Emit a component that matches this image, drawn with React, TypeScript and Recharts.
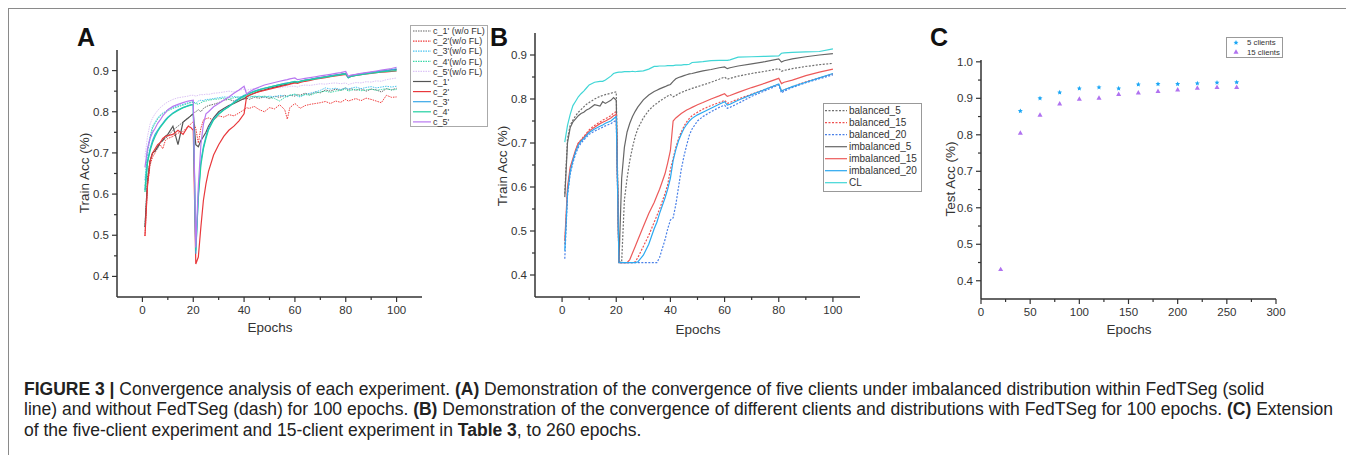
import React from 'react';
import { LineChart, Line, XAxis, YAxis, ScatterChart, Scatter } from 'recharts';

const FONT = "'Liberation Sans', Arial, Helvetica, sans-serif";
const AXIS = '#333';

// ---------- Panel A data ----------
const A_EPOCHS = [1,2,3,4,5,6,7,8,9,10, 12,14,16,18,19,20, 21,22,23,24,25,26, 28,30,32,34,36,38,40, 41,42,44,46,48,50, 52,54,56,57,58,60, 61,62,64,66,68,70, 72,74,76,78,80, 81,82,84,86,88,90, 92,94,96,98,100];

const A_D1 = [0.52,0.64,0.68,0.70,0.705,0.71,0.725,0.73,0.735,0.74, 0.755,0.765,0.775,0.785,0.79,0.797, 0.80,0.805,0.80,0.808,0.812,0.815, 0.818,0.822,0.828,0.83,0.826,0.832,0.83, 0.833,0.83,0.835,0.833,0.836,0.832, 0.838,0.835,0.84,0.837,0.84,0.838, 0.842,0.84,0.845,0.842,0.848,0.846, 0.853,0.85,0.855,0.852,0.858, 0.853,0.856,0.852,0.856,0.85,0.855, 0.853,0.848,0.856,0.853,0.857];
const A_D2 = [0.498,0.62,0.67,0.69,0.70,0.715,0.72,0.71,0.73,0.735, 0.74,0.748,0.752,0.765,0.77,0.776, 0.76,0.724,0.76,0.78,0.783,0.785, 0.78,0.79,0.787,0.793,0.79,0.797,0.805, 0.81,0.808,0.813,0.805,0.80,0.81, 0.807,0.817,0.805,0.782,0.81,0.82, 0.815,0.808,0.815,0.818,0.82,0.822, 0.825,0.82,0.826,0.823,0.83, 0.826,0.828,0.832,0.827,0.833,0.83, 0.826,0.822,0.84,0.835,0.836];
const A_D3 = [0.634,0.71,0.74,0.765,0.775,0.785,0.792,0.797,0.80,0.805, 0.81,0.815,0.818,0.822,0.823,0.825, 0.82,0.826,0.828,0.827,0.83,0.83, 0.832,0.834,0.836,0.835,0.837,0.835,0.838, 0.836,0.839,0.836,0.838,0.835,0.838, 0.836,0.84,0.838,0.836,0.84,0.842, 0.838,0.836,0.842,0.845,0.848,0.852, 0.858,0.855,0.857,0.854,0.858, 0.855,0.857,0.86,0.856,0.859,0.861, 0.858,0.86,0.862,0.86,0.862];
const A_D4 = [0.62,0.70,0.735,0.76,0.772,0.782,0.79,0.795,0.798,0.802, 0.808,0.812,0.816,0.82,0.822,0.823, 0.82,0.818,0.822,0.825,0.826,0.828, 0.83,0.831,0.833,0.83,0.834,0.836,0.835, 0.837,0.835,0.838,0.836,0.838,0.835, 0.832,0.826,0.835,0.838,0.84,0.843, 0.84,0.838,0.842,0.84,0.845,0.848, 0.85,0.847,0.85,0.852,0.855, 0.85,0.852,0.855,0.851,0.853,0.855, 0.852,0.854,0.856,0.853,0.854];
const A_D5 = [0.69,0.74,0.77,0.785,0.795,0.803,0.81,0.815,0.82,0.824, 0.83,0.834,0.836,0.838,0.84,0.84, 0.838,0.84,0.842,0.841,0.843,0.842, 0.845,0.846,0.848,0.85,0.848,0.852,0.855, 0.852,0.854,0.856,0.855,0.858,0.857, 0.86,0.858,0.861,0.86,0.862,0.862, 0.86,0.863,0.865,0.864,0.866,0.868, 0.867,0.869,0.87,0.868,0.87, 0.866,0.868,0.871,0.87,0.873,0.872, 0.875,0.874,0.878,0.88,0.882];
const A_S1 = [0.52,0.63,0.68,0.70,0.705,0.715,0.725,0.73,0.74,0.745, 0.765,0.72,0.775,0.785,0.79,0.795, 0.72,0.715,0.73,0.74,0.75,0.765, 0.785,0.80,0.808,0.815,0.82,0.826,0.832, 0.836,0.84,0.845,0.85,0.853,0.857, 0.86,0.863,0.866,0.867,0.868,0.872, 0.871,0.873,0.876,0.878,0.881,0.883, 0.885,0.887,0.889,0.891,0.893, 0.884,0.887,0.89,0.892,0.894,0.896, 0.897,0.899,0.90,0.902,0.903];
const A_S2 = [0.498,0.62,0.68,0.70,0.71,0.72,0.725,0.735,0.74,0.742, 0.745,0.755,0.745,0.765,0.762,0.755, 0.43,0.447,0.52,0.585,0.625,0.655, 0.695,0.72,0.74,0.755,0.765,0.778,0.795, 0.837,0.84,0.845,0.849,0.852,0.855, 0.858,0.861,0.864,0.865,0.867,0.87, 0.869,0.871,0.874,0.876,0.879,0.881, 0.883,0.885,0.887,0.889,0.891, 0.883,0.886,0.888,0.89,0.892,0.893, 0.895,0.896,0.897,0.898,0.899];
const A_S3 = [0.61,0.68,0.71,0.73,0.745,0.755,0.764,0.772,0.78,0.787, 0.797,0.805,0.81,0.815,0.817,0.818, 0.455,0.60,0.68,0.715,0.74,0.76, 0.782,0.795,0.805,0.813,0.823,0.832,0.84, 0.842,0.845,0.85,0.854,0.857,0.86, 0.863,0.866,0.869,0.87,0.871,0.874, 0.872,0.874,0.877,0.879,0.881,0.883, 0.885,0.887,0.889,0.891,0.893, 0.882,0.886,0.889,0.891,0.893,0.895, 0.897,0.899,0.90,0.902,0.904];
const A_S4 = [0.605,0.675,0.705,0.725,0.74,0.752,0.762,0.77,0.778,0.785, 0.796,0.803,0.81,0.814,0.816,0.818, 0.463,0.59,0.67,0.71,0.735,0.756, 0.78,0.794,0.804,0.812,0.822,0.83,0.838, 0.841,0.844,0.849,0.853,0.857,0.86, 0.863,0.866,0.868,0.869,0.871,0.873, 0.872,0.874,0.876,0.878,0.88,0.882, 0.884,0.886,0.888,0.89,0.892, 0.883,0.886,0.888,0.89,0.892,0.894, 0.895,0.897,0.898,0.899,0.90];
const A_S5 = [0.665,0.71,0.735,0.75,0.76,0.772,0.78,0.79,0.797,0.805, 0.813,0.818,0.822,0.826,0.827,0.828, 0.47,0.62,0.72,0.77,0.795,0.80, 0.812,0.82,0.828,0.836,0.845,0.853,0.862, 0.843,0.848,0.855,0.86,0.865,0.868, 0.871,0.874,0.877,0.878,0.88,0.882, 0.878,0.879,0.881,0.883,0.885,0.887, 0.889,0.891,0.893,0.895,0.898, 0.886,0.889,0.891,0.893,0.895,0.897, 0.899,0.901,0.903,0.905,0.908];

const A_NAMES = ["c_1' (w/o FL)", "c_2'(w/o FL)", "c_3'(w/o FL)", "c_4'(w/o FL)", "c_5'(w/o FL)", "c_1'", "c_2'", "c_3'", "c_4'", "c_5'"];
const A_VALUES = [A_D1, A_D2, A_D3, A_D4, A_D5, A_S1, A_S2, A_S3, A_S4, A_S5];
const A_COLORS = ['#666666', '#f03c3c', '#4cc4f0', '#3cd8a8', '#dcc4f6', '#555555', '#e8383c', '#38a8e8', '#20d0a0', '#b878f0'];
const A_DASHED = [true, true, true, true, true, false, false, false, false, false];

// ---------- Panel B data ----------
const B_EPOCHS = [1,2,3,4,5,6,7,8,9,10, 12,14,15,16,18,19,20, 21,22,23,24,25,26,27,28, 30,32,34,35,36,38,39,40, 41,42,43,44,45,46,47,48, 50,52,55,58,60, 61,62,65,70,75,80, 81,82,85,90,95,100];

const B_BAL5 = [0.585,0.71,0.74,0.752,0.762,0.77,0.776,0.782,0.788,0.792, 0.80,0.806,0.808,0.81,0.813,0.815,0.816, 0.43,0.43,0.57,0.62,0.66,0.69,0.715,0.733, 0.757,0.774,0.786,0.79,0.795,0.803,0.807,0.81, 0.805,0.808,0.812,0.815,0.817,0.82,0.822,0.824, 0.828,0.832,0.838,0.845,0.85, 0.845,0.847,0.852,0.858,0.863,0.869, 0.863,0.865,0.869,0.874,0.878,0.881];
const B_BAL15 = [0.47,0.59,0.64,0.662,0.682,0.70,0.707,0.715,0.722,0.73, 0.74,0.748,0.752,0.755,0.762,0.768,0.771, 0.428,0.428,0.428,0.428,0.428,0.428,0.43,0.44, 0.465,0.49,0.52,0.535,0.55,0.585,0.605,0.64, 0.665,0.69,0.71,0.725,0.738,0.748,0.756,0.762, 0.77,0.777,0.785,0.792,0.797, 0.79,0.792,0.80,0.811,0.822,0.834, 0.818,0.821,0.828,0.839,0.848,0.857];
const B_BAL20 = [0.437,0.58,0.63,0.655,0.675,0.69,0.70,0.707,0.713,0.72, 0.727,0.733,0.736,0.739,0.744,0.748,0.752, 0.428,0.428,0.428,0.428,0.428,0.428,0.428,0.428, 0.428,0.428,0.428,0.428,0.44,0.48,0.505,0.525, 0.53,0.56,0.60,0.64,0.67,0.695,0.718,0.732, 0.75,0.76,0.771,0.781,0.786, 0.779,0.781,0.79,0.806,0.819,0.832, 0.814,0.818,0.826,0.837,0.846,0.855];
const B_IMB5 = [0.577,0.70,0.735,0.748,0.755,0.762,0.767,0.77,0.775,0.778, 0.787,0.784,0.794,0.79,0.797,0.803,0.797, 0.428,0.62,0.69,0.725,0.745,0.76,0.772,0.782, 0.798,0.809,0.817,0.82,0.823,0.828,0.831,0.833, 0.84,0.846,0.849,0.851,0.853,0.855,0.857,0.858, 0.861,0.864,0.867,0.871,0.873, 0.869,0.871,0.875,0.88,0.885,0.891, 0.884,0.887,0.891,0.896,0.90,0.903];
const B_IMB15 = [0.478,0.60,0.645,0.665,0.685,0.70,0.706,0.713,0.72,0.727, 0.736,0.744,0.747,0.75,0.757,0.762,0.765, 0.428,0.428,0.428,0.428,0.435,0.45,0.465,0.48, 0.51,0.54,0.565,0.58,0.595,0.63,0.655,0.683, 0.75,0.757,0.762,0.767,0.771,0.775,0.778,0.781, 0.787,0.792,0.80,0.807,0.812, 0.806,0.808,0.815,0.826,0.836,0.847, 0.835,0.838,0.843,0.853,0.861,0.868];
const B_IMB20 = [0.455,0.585,0.635,0.66,0.68,0.695,0.704,0.71,0.717,0.724, 0.732,0.738,0.741,0.745,0.75,0.755,0.76, 0.428,0.428,0.428,0.428,0.428,0.428,0.428,0.43, 0.445,0.47,0.505,0.52,0.54,0.575,0.595,0.62, 0.66,0.685,0.705,0.72,0.733,0.742,0.75,0.756, 0.764,0.77,0.779,0.788,0.794, 0.786,0.788,0.797,0.81,0.822,0.834, 0.818,0.821,0.828,0.838,0.848,0.858];
const B_CL = [0.702,0.74,0.765,0.785,0.795,0.805,0.812,0.818,0.825,0.832, 0.838,0.84,0.84,0.843,0.852,0.858,0.86, 0.861,0.861,0.862,0.862,0.862,0.863,0.862,0.863, 0.864,0.868,0.874,0.874,0.875,0.875,0.876,0.876, 0.876,0.877,0.877,0.877,0.878,0.878,0.879,0.883, 0.884,0.885,0.887,0.888,0.888, 0.888,0.889,0.895,0.896,0.897,0.898, 0.904,0.905,0.906,0.907,0.908,0.914];

const B_NAMES = ['balanced_5', 'balanced_15', 'balanced_20', 'imbalanced_5', 'imbalanced_15', 'imbalanced_20', 'CL'];
const B_VALUES = [B_BAL5, B_BAL15, B_BAL20, B_IMB5, B_IMB15, B_IMB20, B_CL];
const B_COLORS = ['#707070', '#f05050', '#4a80e8', '#666666', '#ec5a5a', '#2aa8f0', '#40d6d6'];
const B_DASHED = [true, true, true, false, false, false, false];

// ---------- Panel C data ----------
const C5_EPOCHS = [40, 60, 80, 100, 120, 140, 160, 180, 200, 220, 240, 260];
const C5_ACC = [0.865, 0.90, 0.916, 0.927, 0.93, 0.927, 0.938, 0.939, 0.939, 0.941, 0.943, 0.944];
const C15_EPOCHS = [20, 40, 60, 80, 100, 120, 140, 160, 180, 200, 220, 240, 260];
const C15_ACC = [0.431, 0.805, 0.854, 0.885, 0.898, 0.901, 0.911, 0.915, 0.919, 0.923, 0.928, 0.93, 0.93];
const C_NAMES = ['5 clients', '15 clients'];
const C_COLORS = ['#1aa6f5', '#b072f0'];

// ---------- ticks ----------
const AB_X_MAJOR = [0, 20, 40, 60, 80, 100];
const AB_X_MINOR = [10, 30, 50, 70, 90];
const AB_Y_MAJOR = [0.4, 0.5, 0.6, 0.7, 0.8, 0.9];
const AB_Y_MINOR = [0.45, 0.55, 0.65, 0.75, 0.85];
const C_X_MAJOR = [0, 50, 100, 150, 200, 250, 300];
const C_X_MINOR = [25, 75, 125, 175, 225, 275];
const C_Y_MAJOR = [0.4, 0.5, 0.6, 0.7, 0.8, 0.9, 1.0];
const C_Y_MINOR = [0.45, 0.55, 0.65, 0.75, 0.85, 0.95];

const isIn = (arr: number[], v: number) => arr.some((m) => Math.abs(m - v) < 1e-6);

const makeXTick = (majors: number[]) => (props: any) => {
  const { x, y, payload } = props;
  const major = isIn(majors, payload.value);
  return (
    <g>
      <line x1={x} y1={y} x2={x} y2={y + (major ? 5 : 3)} stroke={AXIS} strokeWidth={1.2} />
      {major && (
        <text x={x} y={y + 16.5} textAnchor="middle" fontSize={11.5} fill="#333" fontFamily={FONT}>
          {String(payload.value)}
        </text>
      )}
    </g>
  );
};

const makeYTick = (majors: number[]) => (props: any) => {
  const { x, y, payload } = props;
  const major = isIn(majors, payload.value);
  return (
    <g>
      <line x1={x} y1={y} x2={x - (major ? 5 : 3)} y2={y} stroke={AXIS} strokeWidth={1.2} />
      {major && (
        <text x={x - 8} y={y + 4} textAnchor="end" fontSize={11.5} fill="#333" fontFamily={FONT}>
          {Number(payload.value).toFixed(1)}
        </text>
      )}
    </g>
  );
};

const buildRows = (epochs: number[], values: number[][]) =>
  epochs.map((e, i) => {
    const row: any = { epoch: e };
    values.forEach((arr, k) => {
      row['s' + k] = arr[i];
    });
    return row;
  });

const A_ROWS = buildRows(A_EPOCHS, A_VALUES);
const B_ROWS = buildRows(B_EPOCHS, B_VALUES);
const C5_ROWS = C5_EPOCHS.map((e, i) => ({ x: e, y: C5_ACC[i] }));
const C15_ROWS = C15_EPOCHS.map((e, i) => ({ x: e, y: C15_ACC[i] }));

const OFF = 9; // container border origin in page coords
const abs = (x: number, y: number): React.CSSProperties => ({ position: 'absolute', left: x - OFF, top: y - OFF });

const Centered = ({ x, y, rotate, size, children }: any) => (
  <div
    style={{
      position: 'absolute',
      left: x - OFF,
      top: y - OFF,
      transform: `translate(-50%, -50%)${rotate ? ' rotate(-90deg)' : ''}`,
      fontSize: size,
      fontFamily: FONT,
      color: '#333',
      whiteSpace: 'nowrap',
      lineHeight: 1,
    }}
  >
    {children}
  </div>
);

const PanelLetter = ({ x, y, children }: any) => (
  <div style={{ ...abs(x, y), fontSize: 25, fontWeight: 700, fontFamily: FONT, lineHeight: 1, color: '#111' }}>
    {children}
  </div>
);

const StarShape = (props: any) => {
  const { cx, cy, fill } = props;
  if (cx == null || cy == null) return null;
  const pts: string[] = [];
  for (let i = 0; i < 10; i++) {
    const r = i % 2 === 0 ? 2.6 : 1.2;
    const a = -Math.PI / 2 + (i * Math.PI) / 5;
    pts.push(`${cx + r * Math.cos(a)},${cy + r * Math.sin(a)}`);
  }
  return <polygon points={pts.join(' ')} fill={fill} />;
};

const TriShape = (props: any) => {
  const { cx, cy, fill } = props;
  if (cx == null || cy == null) return null;
  const r = 2.8;
  return <polygon points={`${cx},${cy - r} ${cx + r * 0.9},${cy + r * 0.6} ${cx - r * 0.9},${cy + r * 0.6}`} fill={fill} />;
};

const LegendA = () => (
  <svg width={78} height={102} style={{ ...abs(410, 25) }}>
    <rect x={0.5} y={0.5} width={77} height={101} fill="#fff" stroke="#aaa" strokeWidth={1} />
    {A_NAMES.map((n, i) => {
      const y = 6 + i * 10.1;
      return (
        <g key={n}>
          <line x1={3} x2={21} y1={y} y2={y} stroke={A_COLORS[i]} strokeWidth={1.2} strokeDasharray={A_DASHED[i] ? '1.5 1' : undefined} />
          <text x={23} y={y + 3.2} fontSize={9} fontFamily={FONT} fill="#333">{n}</text>
        </g>
      );
    })}
  </svg>
);

const LegendB = () => (
  <svg width={99} height={89} style={{ ...abs(823, 103) }}>
    <rect x={0.5} y={0.5} width={98} height={88} fill="#fff" stroke="#999" strokeWidth={1} />
    {B_NAMES.map((n, i) => {
      const y = 7.7 + i * 12;
      return (
        <g key={n}>
          <line x1={2} x2={24} y1={y} y2={y} stroke={B_COLORS[i]} strokeWidth={1.2} strokeDasharray={B_DASHED[i] ? '2 1.5' : undefined} />
          <text x={26} y={y + 3.6} fontSize={10} fontFamily={FONT} fill="#333">{n}</text>
        </g>
      );
    })}
  </svg>
);

const LegendC = () => (
  <svg width={57} height={21} style={{ ...abs(1226, 37) }}>
    <rect x={0.5} y={0.5} width={56} height={20} fill="#fff" stroke="#999" strokeWidth={1} />
    <StarShape cx={10} cy={5.7} fill={C_COLORS[0]} />
    <text x={21} y={8.4} fontSize={7.8} fontFamily={FONT} fill="#333">{C_NAMES[0]}</text>
    <TriShape cx={10} cy={15} fill={C_COLORS[1]} />
    <text x={21} y={17.7} fontSize={7.8} fontFamily={FONT} fill="#333">{C_NAMES[1]}</text>
  </svg>
);

const axisLine = { stroke: AXIS, strokeWidth: 1.5 };

export default function App() {
  return (
    <div
      style={{
        position: 'relative',
        width: 1344,
        height: 470,
        boxSizing: 'border-box',
        border: '1px solid #8a8a8a',
        background: '#fff',
        fontFamily: FONT,
      }}
    >
      {/* Panel A */}
      <div style={abs(59, 19)}>
        <LineChart width={380} height={330} data={A_ROWS} margin={{ top: 31, right: 17, bottom: 0, left: 0 }}>
          <XAxis
            type="number"
            dataKey="epoch"
            domain={[-10, 110]}
            ticks={[...AB_X_MAJOR, ...AB_X_MINOR].sort((a, b) => a - b)}
            interval={0}
            height={52}
            tickSize={0}
            tickMargin={0}
            tickLine={false}
            axisLine={axisLine}
            tick={makeXTick(AB_X_MAJOR)}
            allowDataOverflow
          />
          <YAxis
            type="number"
            domain={[0.35, 0.95]}
            ticks={[...AB_Y_MAJOR, ...AB_Y_MINOR].sort((a, b) => a - b)}
            interval={0}
            width={58}
            tickSize={0}
            tickMargin={0}
            tickLine={false}
            axisLine={axisLine}
            tick={makeYTick(AB_Y_MAJOR)}
            allowDataOverflow
          />
          {A_NAMES.map((n, k) => (
            <Line
              key={n}
              type="linear"
              dataKey={'s' + k}
              name={n}
              stroke={A_COLORS[k]}
              strokeWidth={A_DASHED[k] ? 1 : 1.2}
              strokeDasharray={A_DASHED[k] ? '1.5 1' : undefined}
              dot={false}
              activeDot={false}
              isAnimationActive={false}
            />
          ))}
        </LineChart>
      </div>

      {/* Panel B */}
      <div style={abs(480, 19)}>
        <LineChart width={400} height={330} data={B_ROWS} margin={{ top: 14, right: 20, bottom: 0, left: 0 }}>
          <XAxis
            type="number"
            dataKey="epoch"
            domain={[-10, 110]}
            ticks={[...AB_X_MAJOR, ...AB_X_MINOR].sort((a, b) => a - b)}
            interval={0}
            height={52}
            tickSize={0}
            tickMargin={0}
            tickLine={false}
            axisLine={axisLine}
            tick={makeXTick(AB_X_MAJOR)}
            allowDataOverflow
          />
          <YAxis
            type="number"
            domain={[0.35, 0.95]}
            ticks={[...AB_Y_MAJOR, ...AB_Y_MINOR].sort((a, b) => a - b)}
            interval={0}
            width={55}
            tickSize={0}
            tickMargin={0}
            tickLine={false}
            axisLine={axisLine}
            tick={makeYTick(AB_Y_MAJOR)}
            allowDataOverflow
          />
          {B_NAMES.map((n, k) => (
            <Line
              key={n}
              type="linear"
              dataKey={'s' + k}
              name={n}
              stroke={B_COLORS[k]}
              strokeWidth={1.2}
              strokeDasharray={B_DASHED[k] ? '2 1.5' : undefined}
              dot={false}
              activeDot={false}
              isAnimationActive={false}
            />
          ))}
        </LineChart>
      </div>

      {/* Panel C */}
      <div style={abs(925, 19)}>
        <ScatterChart width={370} height={332} margin={{ top: 41, right: 19, bottom: 0, left: 0 }}>
          <XAxis
            type="number"
            dataKey="x"
            domain={[0, 300]}
            ticks={[...C_X_MAJOR, ...C_X_MINOR].sort((a, b) => a - b)}
            interval={0}
            height={52}
            tickSize={0}
            tickMargin={0}
            tickLine={false}
            axisLine={axisLine}
            tick={makeXTick(C_X_MAJOR)}
            allowDataOverflow
          />
          <YAxis
            type="number"
            dataKey="y"
            domain={[0.35, 1.005]}
            ticks={[...C_Y_MAJOR, ...C_Y_MINOR].sort((a, b) => a - b)}
            interval={0}
            width={56}
            tickSize={0}
            tickMargin={0}
            tickLine={false}
            axisLine={axisLine}
            tick={makeYTick(C_Y_MAJOR)}
            allowDataOverflow
          />
          <Scatter name={C_NAMES[0]} data={C5_ROWS} fill={C_COLORS[0]} shape={StarShape} isAnimationActive={false} />
          <Scatter name={C_NAMES[1]} data={C15_ROWS} fill={C_COLORS[1]} shape={TriShape} isAnimationActive={false} />
        </ScatterChart>
      </div>

      <LegendA />
      <LegendB />
      <LegendC />

      <PanelLetter x={77} y={25}>A</PanelLetter>
      <PanelLetter x={490} y={25}>B</PanelLetter>
      <PanelLetter x={930} y={25}>C</PanelLetter>

      <Centered x={85} y={173} rotate size={13.5}>Train Acc (%)</Centered>
      <Centered x={270} y={328} size={13.5}>Epochs</Centered>
      <Centered x={503} y={166} rotate size={13.5}>Train Acc (%)</Centered>
      <Centered x={698} y={330} size={13.5}>Epochs</Centered>
      <Centered x={951} y={179} rotate size={13.5}>Test Acc (%)</Centered>
      <Centered x={1129} y={330} size={13.5}>Epochs</Centered>

      <div
        style={{
          ...abs(24, 378.5),
          fontSize: 17.5,
          lineHeight: '20.5px',
          fontFamily: FONT,
          color: '#222',
          whiteSpace: 'nowrap',
        }}
      >
        <b>FIGURE 3 |</b> Convergence analysis of each experiment. <b>(A)</b> Demonstration of the convergence of five clients under imbalanced distribution within FedTSeg (solid
        <br />
        line) and without FedTSeg (dash) for 100 epochs. <b>(B)</b> Demonstration of the convergence of different clients and distributions with FedTSeg for 100 epochs. <b>(C)</b> Extension
        <br />
        of the five-client experiment and 15-client experiment in <b>Table 3</b>, to 260 epochs.
      </div>
    </div>
  );
}
